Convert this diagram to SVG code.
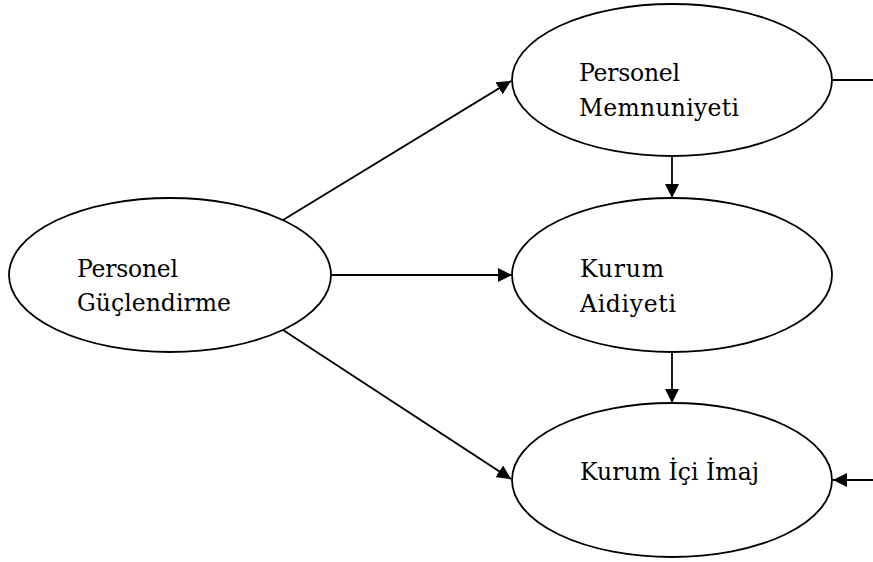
<svg xmlns="http://www.w3.org/2000/svg" width="873" height="562" viewBox="0 0 873 562">
<style>
.node ellipse{fill:#fff;stroke:#000;stroke-width:1.8}
.node text{font-family:"DejaVu Serif","Liberation Serif",serif;font-size:23.5px;fill:#000}
#connectors line{stroke:#000;stroke-width:1.8;fill:none}
</style>
<defs>
<marker id="arr" markerUnits="userSpaceOnUse" markerWidth="14" markerHeight="14" viewBox="0 0 14 14" refX="14" refY="7" orient="auto">
<path d="M0,0 L14,7 L0,14 z" fill="#000"/>
</marker>
</defs>
<rect width="873" height="562" fill="#fff"/>
<g id="connectors">
<line x1="283" y1="220" x2="511" y2="81" marker-end="url(#arr)"/>
<line x1="331" y1="275" x2="512" y2="275" marker-end="url(#arr)"/>
<line x1="283" y1="330" x2="511" y2="479" marker-end="url(#arr)"/>
<line x1="672" y1="156" x2="672" y2="198" marker-end="url(#arr)"/>
<line x1="672" y1="352" x2="672" y2="403" marker-end="url(#arr)"/>
<line x1="833" y1="80" x2="873" y2="80"/>
<line x1="873" y1="480" x2="833" y2="480" marker-end="url(#arr)"/>
</g>
<g id="personel-guclendirme" class="node">
<ellipse cx="170" cy="275" rx="161" ry="77"/>
<text x="77" y="277" textLength="101">Personel</text>
<text x="77" y="311" textLength="154">Güçlendirme</text>
</g>
<g id="personel-memnuniyeti" class="node">
<ellipse cx="672" cy="80" rx="160" ry="76"/>
<text x="579" y="81" textLength="101">Personel</text>
<text x="579" y="116" textLength="160">Memnuniyeti</text>
</g>
<g id="kurum-aidiyeti" class="node">
<ellipse cx="672" cy="275" rx="160" ry="77"/>
<text x="580" y="277" textLength="84">Kurum</text>
<text x="580" y="312" textLength="96">Aidiyeti</text>
</g>
<g id="kurum-ici-imaj" class="node">
<ellipse cx="672" cy="480" rx="160" ry="77"/>
<text x="580" y="480" textLength="179">Kurum İçi İmaj</text>
</g>
</svg>
